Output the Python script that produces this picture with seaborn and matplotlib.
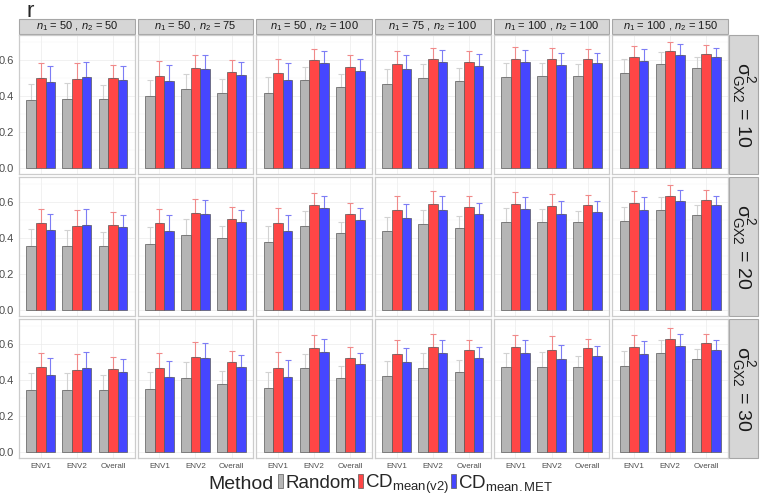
import numpy as np
import pandas as pd
import matplotlib
matplotlib.use("Agg")
import matplotlib.pyplot as plt
from matplotlib.patches import Patch, Rectangle
import seaborn as sns

# ---------------------------------
# Datos
# ---------------------------------
sizes = ["$n_1$ = 50 , $n_2$ = 50", "$n_1$ = 50 , $n_2$ = 75", "$n_1$ = 50 , $n_2$ = 100",
         "$n_1$ = 75 , $n_2$ = 100", "$n_1$ = 100 , $n_2$ = 100", "$n_1$ = 100 , $n_2$ = 150"]
sigmas = [10, 20, 30]
envs = ["ENV1", "ENV2", "Overall"]
methods = ["Random", "CD$_\\mathrm{mean(v2)}$", "CD$_\\mathrm{mean{.}MET}$"]
colores = ["#b5b5b5", "#ff4646", "#4646ff"]
colores_err = ["#d2d2d2", "#f08a8a", "#7d7df5"]

# cada lista: 6 tamaños x (ENV1, ENV2, Overall)
random_mean_10 = [0.376, 0.382, 0.382, 0.400, 0.440, 0.418, 0.418, 0.490, 0.451,
                  0.468, 0.501, 0.484, 0.506, 0.512, 0.510, 0.530, 0.580, 0.556]
random_top_10 = [0.470, 0.473, 0.462, 0.490, 0.523, 0.495, 0.506, 0.561, 0.523,
                 0.550, 0.578, 0.556, 0.583, 0.585, 0.578, 0.605, 0.644, 0.618]
cdv2_mean_10 = [0.501, 0.497, 0.501, 0.512, 0.556, 0.534, 0.528, 0.600, 0.561,
                0.578, 0.605, 0.589, 0.607, 0.605, 0.605, 0.620, 0.650, 0.633]
cdv2_top_10 = [0.583, 0.583, 0.572, 0.594, 0.627, 0.600, 0.605, 0.664, 0.627,
               0.650, 0.666, 0.650, 0.673, 0.666, 0.662, 0.679, 0.703, 0.683]
cdmet_mean_10 = [0.479, 0.505, 0.492, 0.484, 0.550, 0.517, 0.490, 0.583, 0.538,
                 0.550, 0.589, 0.569, 0.589, 0.574, 0.582, 0.598, 0.631, 0.615]
cdmet_top_10 = [0.567, 0.589, 0.567, 0.572, 0.627, 0.589, 0.583, 0.650, 0.605,
                0.627, 0.655, 0.633, 0.659, 0.642, 0.642, 0.664, 0.688, 0.670]

random_mean_20 = [0.358, 0.354, 0.358, 0.369, 0.419, 0.397, 0.375, 0.469, 0.425,
                  0.438, 0.480, 0.458, 0.486, 0.486, 0.486, 0.497, 0.557, 0.528]
random_top_20 = [0.452, 0.447, 0.432, 0.461, 0.508, 0.469, 0.469, 0.548, 0.491,
                 0.519, 0.557, 0.524, 0.569, 0.563, 0.552, 0.574, 0.630, 0.585]
cdv2_mean_20 = [0.482, 0.469, 0.474, 0.482, 0.541, 0.508, 0.482, 0.585, 0.535,
                0.557, 0.591, 0.574, 0.591, 0.580, 0.585, 0.596, 0.635, 0.613]
cdv2_top_20 = [0.563, 0.557, 0.546, 0.563, 0.615, 0.574, 0.569, 0.652, 0.594,
               0.631, 0.659, 0.631, 0.657, 0.646, 0.640, 0.663, 0.696, 0.665]
cdmet_mean_20 = [0.447, 0.474, 0.460, 0.441, 0.535, 0.487, 0.441, 0.565, 0.502,
                 0.513, 0.557, 0.535, 0.559, 0.535, 0.546, 0.557, 0.604, 0.581]
cdmet_top_20 = [0.535, 0.559, 0.530, 0.530, 0.613, 0.556, 0.530, 0.635, 0.569,
                0.591, 0.631, 0.596, 0.630, 0.607, 0.607, 0.630, 0.668, 0.635]

random_mean_30 = [0.345, 0.345, 0.345, 0.351, 0.410, 0.378, 0.356, 0.463, 0.412,
                  0.423, 0.467, 0.445, 0.473, 0.473, 0.473, 0.478, 0.550, 0.517]
random_top_30 = [0.438, 0.438, 0.425, 0.443, 0.498, 0.450, 0.445, 0.545, 0.478,
                 0.504, 0.550, 0.511, 0.550, 0.556, 0.534, 0.561, 0.622, 0.572]
cdv2_mean_30 = [0.471, 0.456, 0.461, 0.467, 0.528, 0.497, 0.467, 0.578, 0.524,
                0.546, 0.583, 0.567, 0.583, 0.567, 0.576, 0.583, 0.628, 0.606]
cdv2_top_30 = [0.550, 0.545, 0.528, 0.550, 0.611, 0.561, 0.556, 0.650, 0.583,
               0.622, 0.655, 0.622, 0.650, 0.641, 0.628, 0.650, 0.689, 0.655]
cdmet_mean_30 = [0.428, 0.465, 0.445, 0.417, 0.524, 0.473, 0.417, 0.556, 0.487,
                 0.498, 0.548, 0.522, 0.550, 0.517, 0.534, 0.543, 0.589, 0.567]
cdmet_top_30 = [0.522, 0.556, 0.517, 0.506, 0.606, 0.539, 0.510, 0.628, 0.550,
                0.578, 0.622, 0.583, 0.622, 0.594, 0.589, 0.617, 0.655, 0.622]

medias = {10: [random_mean_10, cdv2_mean_10, cdmet_mean_10],
          20: [random_mean_20, cdv2_mean_20, cdmet_mean_20],
          30: [random_mean_30, cdv2_mean_30, cdmet_mean_30]}
topes = {10: [random_top_10, cdv2_top_10, cdmet_top_10],
         20: [random_top_20, cdv2_top_20, cdmet_top_20],
         30: [random_top_30, cdv2_top_30, cdmet_top_30]}

# Tabla larga
filas = []
for s in sigmas:
    for m, met in enumerate(methods):
        for i, sz in enumerate(sizes):
            for j, env in enumerate(envs):
                k = i * 3 + j
                filas.append({"sigma": s, "size": sz, "env": env, "method": met,
                              "mean": medias[s][m][k], "top": topes[s][m][k]})
df = pd.DataFrame(filas)

# ---------------------------------
# Estilo
# ---------------------------------
sns.set_style("white")
plt.rcParams["font.family"] = ["Liberation Sans", "DejaVu Sans"]
plt.rcParams["mathtext.fontset"] = "custom"
plt.rcParams["mathtext.rm"] = "Liberation Sans"
plt.rcParams["mathtext.it"] = "Liberation Sans:italic"
plt.rcParams["mathtext.bf"] = "Liberation Sans:bold"

fig, axes = plt.subplots(3, 6, figsize=(7.6, 4.98), dpi=100, sharey=True)
fig.subplots_adjust(left=19 / 760, right=728 / 760, top=1 - 35 / 498, bottom=1 - 458 / 498,
                    wspace=0.026, hspace=0.018)

for r, s in enumerate(sigmas):
    for c, sz in enumerate(sizes):
        ax = axes[r, c]
        sub = df[(df["sigma"] == s) & (df["size"] == sz)]
        ax.set_axisbelow(True)
        sns.barplot(data=sub, x="env", y="mean", hue="method", order=envs,
                    hue_order=methods, palette=colores, saturation=1, width=0.8,
                    errorbar=None, edgecolor="#5a5a5a", linewidth=0.5, legend=False, ax=ax)
        barras = list(ax.containers)
        # barras de error (solo hacia arriba)
        for m, cont in enumerate(barras):
            d = sub[sub["method"] == methods[m]].set_index("env").loc[envs]
            xs = [p.get_x() + p.get_width() / 2 for p in cont.patches]
            err = [np.zeros(3), d["top"].values - d["mean"].values]
            ax.errorbar(xs, d["mean"].values, yerr=err, fmt="none", ecolor=colores_err[m],
                        elinewidth=0.8, capsize=2, capthick=0.8, zorder=0.8)
        ax.set_xlim(-0.6, 2.6)
        ax.set_ylim(-0.035, 0.74)
        ax.set_yticks([0.0, 0.2, 0.4, 0.6])
        ax.set_yticks([0.1, 0.3, 0.5, 0.7], minor=True)
        ax.grid(True, which="major", color="#ebebeb", linewidth=0.5)
        ax.grid(True, which="minor", axis="y", color="#f5f5f5", linewidth=0.3)
        ax.set_xlabel("")
        ax.set_ylabel("")
        for sp in ax.spines.values():
            sp.set_color("#cccccc")
            sp.set_linewidth(0.9)
        ax.tick_params(axis="both", which="major", length=2, width=0.5, color="#b3b3b3",
                       labelcolor="#4d4d4d", pad=1.5)
        ax.tick_params(axis="y", labelsize=8)
        ax.tick_params(axis="x", labelsize=5.8)
        ax.tick_params(which="minor", length=0)
        if r < 2:
            ax.tick_params(axis="x", labelbottom=False, length=0)
        if c > 0:
            ax.tick_params(axis="y", labelleft=False, length=0)
        # tiras superiores
        if r == 0:
            ax.add_patch(Rectangle((0, 1.01), 1, 15 / 139, transform=ax.transAxes,
                                   facecolor="#d6d6d6", edgecolor="#a6a6a6", linewidth=0.8,
                                   clip_on=False))
            ax.text(0.5, 1.01 + 7.5 / 139, sz, transform=ax.transAxes, ha="center",
                    va="center", fontsize=8, color="#1a1a1a")
        # tiras derechas
        if c == 5:
            ax.add_patch(Rectangle((1.005, 0), 30 / 116, 1, transform=ax.transAxes,
                                   facecolor="#d6d6d6", edgecolor="#a6a6a6", linewidth=0.8,
                                   clip_on=False))
            ax.text(1.005 + 15 / 116, 0.5, r"$\mathrm{\sigma^2_{GX2}}$ = " + str(s),
                    transform=ax.transAxes, ha="center", va="center", rotation=270,
                    fontsize=14, color="#1a1a1a")

# Título y leyenda
fig.text(26 / 760, 1 - 17 / 498, "r", fontsize=16, va="baseline", ha="left")
fig.text(208 / 760, 1 - 484 / 498, "Method", fontsize=14, va="center", ha="left")
handles = [Patch(facecolor=colores[i], edgecolor="#5a5a5a", linewidth=0.5) for i in range(3)]
fig.legend(handles, methods, loc="center left", bbox_to_anchor=(278 / 760, 1 - 484 / 498),
           ncol=3, frameon=False, fontsize=13.5, handlelength=0.24, handleheight=0.8,
           handletextpad=0.15, columnspacing=0.1, borderpad=0, borderaxespad=0)

plt.savefig("out.png", dpi=100)
